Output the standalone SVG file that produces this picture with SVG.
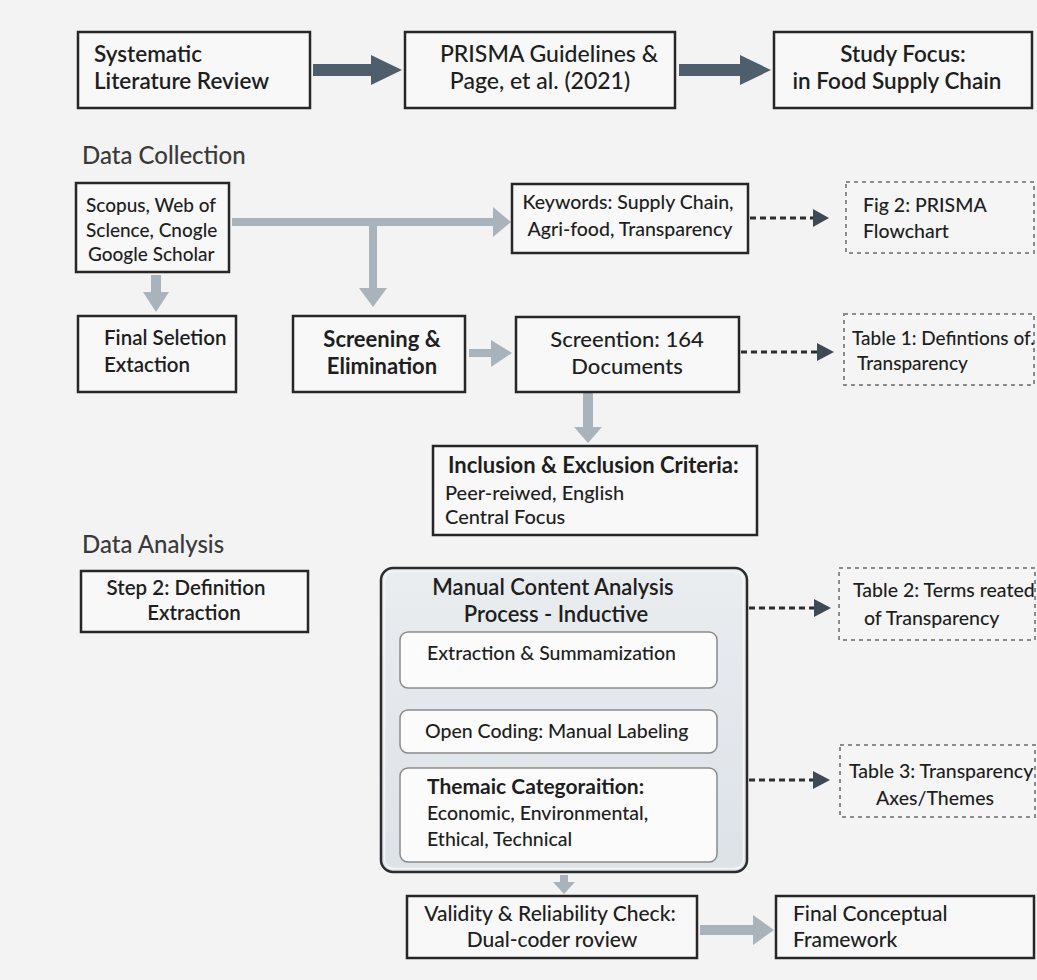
<svg xmlns="http://www.w3.org/2000/svg" width="1037" height="980" viewBox="0 0 1037 980">
<style>
  text { font-family: Lato, "Open Sans", "Liberation Sans", sans-serif; fill: #1e1e1e; }
  .box { fill: #f8f8f8; stroke: #262626; stroke-width: 2.5; }
  .dbox { fill: #f5f5f5; stroke: #8c8c8c; stroke-width: 2; stroke-dasharray: 4 4; }
  .inner { fill: #fbfbfb; stroke: #8a8a8a; stroke-width: 1.5; }
  .dark { fill: #4f5e6c; }
  .light { fill: #a9b3bc; }
  .dash { stroke: #2e2e2e; stroke-width: 3; stroke-dasharray: 6 4; fill: none; }
  .dhead { fill: #3d4954; }
  .thin { stroke: #333; stroke-width: 1.5; fill: none; }
  .sec { font-size: 24px; font-weight: 500; fill: #3a3a3a; }
  .top { font-size: 22.5px; font-weight: 600; }
  .t19 { font-size: 19px; font-weight: 500; }
  .t20 { font-size: 20px; font-weight: 500; }
  .t21 { font-size: 21px; font-weight: 500; }
  .t20b { font-size: 20.5px; font-weight: 600; }
  .in { font-size: 19.5px; font-weight: 500; }
</style>
<defs>
  <linearGradient id="outerGrad" x1="0" y1="0" x2="0" y2="1">
    <stop offset="0" stop-color="#e9edf0"/>
    <stop offset="1" stop-color="#dde2e7"/>
  </linearGradient>
</defs>
<rect x="0" y="0" width="1037" height="980" fill="#f3f3f3"/>

<text class="sec" x="82" y="164">Data Collection</text>
<text class="sec" x="82" y="553">Data Analysis</text>

<g id="connectors">
  <path class="dark" d="M313,64 H371 V55 L402,70 L371,85 V76 H313 Z"/>
  <path class="dark" d="M679,64 H740 V55 L771,70 L740,85 V76 H679 Z"/>
  <path class="light" d="M232,218 H493 V207 L511,222 L493,237 V226 H232 Z"/>
  <path class="light" d="M369,226 H377 V288 H387 L373,307 L359,288 H369 Z"/>
  <path class="light" d="M151,275 H161 V292 H169 L156,312 L143,292 H151 Z"/>
  <path class="light" d="M469,349 H491 V340 L512,353 L491,367 V357 H469 Z"/>
  <path class="light" d="M583,393 H593 V427 H602 L588,443 L574,427 H583 Z"/>
  <path class="light" d="M560,875 H568 V882 H575 L564,894 L553,882 H560 Z"/>
  <path class="light" d="M700,925 H753 V915 L774,930 L753,945 V935 H700 Z"/>
  <line class="dash" x1="750" y1="218" x2="814" y2="218"/>
  <polygon class="dhead" points="813,209 829,218 813,227"/>
  <line class="dash" x1="741" y1="352" x2="818" y2="352"/>
  <polygon class="dhead" points="817,343 834,352 817,361"/>
  <line class="dash" x1="749" y1="608" x2="815" y2="608"/>
  <polygon class="dhead" points="814,599 831,608 814,617"/>
  <line class="dash" x1="749" y1="780" x2="814" y2="780"/>
  <polygon class="dhead" points="813,771 830,780 813,789"/>
  <line class="thin" x1="565" y1="690" x2="565" y2="706"/>
  <polyline class="thin" points="560,700 565,707 570,700"/>
  <line class="thin" x1="565" y1="754" x2="565" y2="767"/>
  <polyline class="thin" points="560,761 565,767 570,761"/>
</g>

<g id="slr">
  <rect class="box" x="78" y="32" width="232" height="76"/>
  <text class="top" x="94" y="62">Systematic</text>
  <text class="top" x="94" y="89">Literature Review</text>
</g>
<g id="prisma">
  <rect class="box" x="405" y="32" width="270" height="76"/>
  <text x="549" y="62" text-anchor="middle" font-size="23" font-weight="500">PRISMA Guidelines &amp;</text>
  <text x="540" y="89" text-anchor="middle" font-size="23" font-weight="500">Page, et al. (2021)</text>
</g>
<g id="focus">
  <rect class="box" x="774" y="32" width="258" height="76"/>
  <text class="top" x="903" y="62" text-anchor="middle">Study Focus:</text>
  <text class="top" x="897" y="89" text-anchor="middle">in Food Supply Chain</text>
</g>

<g id="sources">
  <rect class="box" x="76" y="183" width="153" height="89"/>
  <text class="t19" x="86" y="212">Scopus, Web of</text>
  <text class="t19" x="86" y="237">Sclence, Cnogle</text>
  <text class="t19" x="88" y="261">Google Scholar</text>
</g>
<g id="keywords">
  <rect class="box" x="512" y="184" width="236" height="69"/>
  <text class="in" x="628" y="209" text-anchor="middle">Keywords: Supply Chain,</text>
  <text class="in" x="630" y="236" text-anchor="middle">Agri-food, Transparency</text>
</g>
<g id="fig2">
  <rect class="dbox" x="846" y="182" width="188" height="71"/>
  <text class="in" x="863" y="212">Fig 2: PRISMA</text>
  <text class="in" x="863" y="238">Flowchart</text>
</g>

<g id="final-selection">
  <rect class="box" x="78" y="316" width="158" height="76"/>
  <text class="t20b" x="104" y="345">Final Seletion</text>
  <text class="t20b" x="104" y="372">Extaction</text>
</g>
<g id="screening">
  <rect class="box" x="293" y="316" width="172" height="76"/>
  <text x="382" y="347" text-anchor="middle" font-size="22" font-weight="700">Screening &amp;</text>
  <text x="382" y="374" text-anchor="middle" font-size="22" font-weight="700">Elimination</text>
</g>
<g id="screention">
  <rect class="box" x="516" y="317" width="223" height="75"/>
  <text x="627" y="347" text-anchor="middle" font-size="22" font-weight="500">Screention: 164</text>
  <text x="627" y="374" text-anchor="middle" font-size="22" font-weight="500">Documents</text>
</g>
<g id="table1">
  <rect class="dbox" x="844" y="314" width="190" height="71"/>
  <text class="t19" x="852" y="345">Table 1: Defintions of.</text>
  <text class="t19" x="857" y="370">Transparency</text>
</g>

<g id="criteria">
  <rect class="box" x="433" y="446" width="324" height="89"/>
  <text x="448" y="473" font-size="22" font-weight="700">Inclusion &amp; Exclusion Criteria:</text>
  <text class="t20" x="445" y="500">Peer-reiwed, English</text>
  <text class="t20" x="445" y="524">Central Focus</text>
</g>

<g id="step2">
  <rect class="box" x="81" y="571" width="227" height="61"/>
  <text class="t20b" x="186" y="595" text-anchor="middle" font-size="21">Step 2: Definition</text>
  <text class="t20b" x="194" y="620" text-anchor="middle">Extraction</text>
</g>

<g id="manual-analysis">
  <rect x="381" y="568" width="366" height="304" rx="12" fill="url(#outerGrad)" stroke="#2b2b2b" stroke-width="2.5"/>
  <rect x="384.5" y="571.5" width="359" height="297" rx="9" fill="none" stroke="#f4f6f8" stroke-width="1.5"/>
  <text x="553" y="595" text-anchor="middle" font-size="22" font-weight="600">Manual Content Analysis</text>
  <text x="556" y="622" text-anchor="middle" font-size="22" font-weight="600">Process - Inductive</text>
</g>
<g id="extraction">
  <rect class="inner" x="400" y="632" width="317" height="56" rx="8"/>
  <text class="in" x="427" y="660" font-size="20">Extraction &amp; Summamization</text>
</g>
<g id="open-coding">
  <rect class="inner" x="400" y="710" width="317" height="43" rx="8"/>
  <text class="in" x="425" y="738" font-size="20">Open Coding: Manual Labeling</text>
</g>
<g id="thematic">
  <rect class="inner" x="400" y="768" width="317" height="94" rx="8"/>
  <text x="427" y="794" font-size="21" font-weight="700">Themaic Categoraition:</text>
  <text class="in" x="427" y="820" font-size="20">Economic, Environmental,</text>
  <text class="in" x="427" y="846" font-size="20">Ethical, Technical</text>
</g>

<g id="table2">
  <rect class="dbox" x="839" y="568" width="196" height="72"/>
  <text class="in" x="853" y="597">Table 2: Terms reated</text>
  <text class="in" x="864" y="625">of Transparency</text>
</g>
<g id="table3">
  <rect class="dbox" x="840" y="745" width="195" height="72"/>
  <text class="in" x="849" y="778">Table 3: Transparency</text>
  <text class="in" x="935" y="805" text-anchor="middle">Axes/Themes</text>
</g>

<g id="validity">
  <rect class="box" x="407" y="896" width="290" height="62"/>
  <text class="t21" x="550" y="921" text-anchor="middle">Validity &amp; Reliability Check:</text>
  <text class="t21" x="552" y="947" text-anchor="middle">Dual-coder roview</text>
</g>
<g id="framework">
  <rect class="box" x="776" y="896" width="258" height="62"/>
  <text class="t21" x="793" y="921">Final Conceptual</text>
  <text class="t21" x="793" y="947">Framework</text>
</g>
</svg>
